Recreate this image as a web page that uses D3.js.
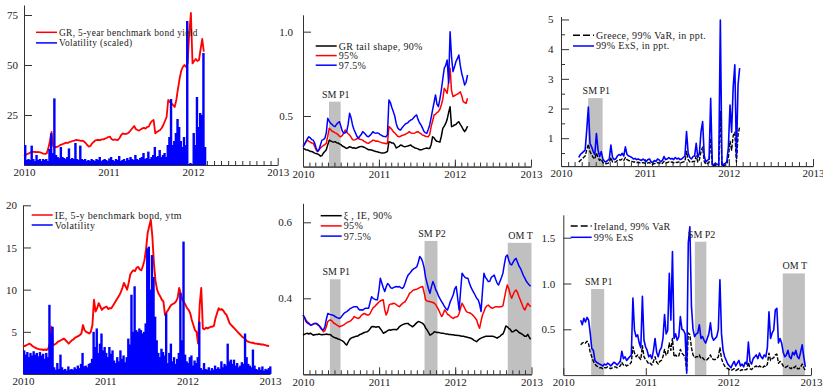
<!DOCTYPE html>
<html>
<head>
<meta charset="utf-8">
<script src="https://cdn.jsdelivr.net/npm/d3@7"></script>
<style>
  body { margin: 0; background: #fff; }
  svg { display: block; font-family: "Liberation Serif", "DejaVu Serif", serif; }
</style>
</head>
<body>
<svg id="chart" width="823" height="387"></svg>
<script>
// weekly observations, week index counted from 1 Jan 2010
const years = [2010, 2011, 2012, 2013];

// Greece, 5-year benchmark yield and scaled volatility (weeks 0..111)
const grYield = [
  4.5, 5.0, 5.5, 5.8, 6.3, 6.7, 6.6, 6.5, 6.4, 6.5,
  6.3, 6.0, 5.7, 5.5, 5.8, 8.3, 12, 16.5, 9.5, 9.0,
  9.0, 9.2, 9.8, 10.2, 10.5, 10.8, 11.2, 11.0, 11.5, 11.7,
  12.0, 12.2, 12.5, 12.4, 12.3, 12.1, 12.2, 11.8, 11.0, 10.0,
  9.2, 9.5, 10.8, 11.5, 12.3, 12.5, 12.6, 12.4, 12.8, 12.8,
  13.2, 13.5, 14.0, 14.2, 13.0, 12.5, 12.8, 12.6, 12.5, 13.5,
  15.0, 15.8, 15.5, 15.6, 15.8, 16.5, 17.5, 18.5, 19.5, 18.0,
  17.5, 17.2, 17.8, 18.3, 18.6, 18.2, 19.0, 19.2, 21.0, 22.0,
  22.5, 15.8, 16.5, 17.0, 17.5, 18.5, 20.0, 22.0, 24.0, 32.5,
  31.5, 30.8, 30.0, 29.0, 32.5, 38.0, 43.0, 47.0, 49.0, 50.0,
  49.0, 51.0, 66.0, 76.0, 50.8, 52.0, 53.0, 52.0, 52.5, 58.0, 63.0, 56.7
];
const grVol = [
  10, 2.5, 3, 2.5, 9.7, 3, 2, 5, 2.5, 3,
  2, 3, 2.5, 3, 2, 8, 15.8, 6, 33.3, 5,
  4, 3.5, 9, 4, 3.5, 3, 4, 8.3, 3, 3.5,
  3, 11, 3, 2.5, 9.7, 3, 2.5, 3, 2, 2.5,
  2, 3, 2.5, 2, 3, 2.5, 4, 2, 2.5, 3,
  2.5, 2, 3, 4, 2.5, 2, 3, 2.5, 4.5, 2,
  2.5, 3, 2, 3.5, 2.5, 4, 3, 2.5, 5, 3,
  2.5, 3.5, 4, 6, 3, 3.5, 6.7, 3, 4, 5,
  9, 4, 4.5, 7.5, 4, 5, 6, 4, 10, 14,
  33, 10, 12, 16, 23, 19, 12, 9, 14, 10,
  72, 0.5, 1, 0.5, 16, 10, 34, 19, 26, 25, 56, 9
];

// Greece tail shape (weeks 0..113)
const grXi90 = [
  .308, .305, .30, .298, .295, .29, .29, .285, .28, .278,
  .275, .27, .262, .265, .28, .29, .30, .33, .357, .352,
  .348, .345, .348, .342, .34, .335, .33, .322, .318, .312,
  .308, .312, .318, .315, .31, .312, .308, .31, .315, .318,
  .32, .318, .315, .31, .305, .30, .30, .298, .295, .292,
  .29, .288, .285, .283, .28, .28, .282, .285, .29, .348,
  .345, .34, .34, .33, .31, .315, .32, .328, .325, .32,
  .318, .32, .322, .325, .328, .32, .315, .31, .308, .305,
  .30, .30, .302, .305, .308, .31, .308, .308, .33, .377,
  .37, .357, .35, .348, .345, .38, .427, .44, .456, .48,
  .52, .555, .437, .44, .447, .45, .46, .466, .45, .437, .42, .407, .42, .44
];
const grXi95 = [
  .328, .335, .345, .357, .35, .345, .34, .338, .32, .30,
  .29, .30, .31, .318, .325, .33, .338, .38, .427, .42,
  .41, .407, .40, .397, .39, .38, .377, .385, .40, .417,
  .405, .395, .387, .375, .36, .357, .36, .365, .368, .362,
  .36, .357, .35, .345, .34, .338, .345, .35, .357, .355,
  .35, .352, .348, .345, .342, .34, .338, .335, .338, .437,
  .43, .42, .407, .40, .39, .38, .377, .38, .385, .387,
  .39, .395, .40, .407, .40, .398, .397, .40, .405, .407,
  .40, .395, .387, .385, .38, .378, .377, .39, .437, .47,
  .506, .51, .52, .526, .54, .565, .60, .664, .65, .634,
  .70, .783, .65, .615, .62, .625, .63, .635, .644, .62, .585, .58, .575, .605
];
const grXi975 = [
  .318, .33, .35, .365, .377, .37, .36, .357, .34, .31,
  .29, .30, .33, .357, .36, .368, .40, .486, .47, .456,
  .45, .44, .437, .45, .46, .466, .44, .41, .397, .40,
  .407, .45, .516, .49, .447, .42, .40, .38, .368, .38,
  .39, .407, .40, .39, .38, .377, .385, .395, .407, .40,
  .398, .40, .397, .39, .385, .38, .378, .377, .39, .595,
  .58, .55, .526, .50, .456, .43, .42, .417, .43, .44,
  .45, .456, .46, .47, .476, .48, .49, .50, .506, .48,
  .46, .447, .43, .41, .40, .397, .42, .447, .49, .536,
  .58, .625, .57, .555, .60, .654, .72, .783, .80, .832,
  .694, 1.0, .85, .763, .79, .822, .84, .862, .80, .753, .72, .684, .70, .743
];

// Greece 99% VaR and ExS, in ppt. (weeks 11..111)
const grVaR = [
  0.2, 0.25, 0.3, 0.35, 0.4, 0.6, 0.8, 0.55, 0.45, 0.35,
  0.3, 0.5, 0.35, 0.25, 0.3, 0.18, 0.15, 0.14, 0.15, 0.18,
  0.35, 0.2, 0.18, 0.2, 0.25, 0.28, 0.26, 0.3, 0.25, 0.35,
  0.28, 0.25, 0.24, 0.22, 0.2, 0.2, 0.18, 0.19, 0.17, 0.16,
  0.18, 0.16, 0.14, 0.17, 0.18, 0.13, 0.12, 0.15, 0.14, 0.18,
  0.17, 0.13, 0.15, 0.22, 0.17, 0.18, 0.2, 0.18, 0.2, 0.17,
  0.2, 0.18, 0.2, 0.17, 0.18, 0.2, 0.22, 0.55, 0.28, 0.2,
  0.18, 0.22, 0.22, 0.4, 0.2, 0.28, 0.55, 0.7, 0.22, 0.12,
  0.15, 0.18, 1.0, 0.07, 0.08, 0.09, 0.08, 0.07, 1.9, 0.07,
  0.08, 0.09, 0.12, 0.35, 0.9, 0.6, 1.1, 1.2, 0.2, 1.1, 1.4
];
const grExS = [
  0.35, 0.45, 0.5, 0.55, 0.6, 1.28, 2.05, 0.83, 0.71, 0.55,
  0.45, 1.16, 0.6, 0.38, 0.55, 0.3, 0.22, 0.2, 0.25, 0.3,
  0.77, 0.35, 0.28, 0.3, 0.4, 0.45, 0.42, 0.49, 0.4, 0.71,
  0.45, 0.4, 0.38, 0.35, 0.3, 0.32, 0.28, 0.3, 0.27, 0.25,
  0.3, 0.25, 0.22, 0.28, 0.3, 0.2, 0.18, 0.25, 0.22, 0.3,
  0.27, 0.2, 0.25, 0.38, 0.28, 0.3, 0.35, 0.3, 0.32, 0.28,
  0.35, 0.3, 0.33, 0.28, 0.3, 0.35, 0.4, 1.22, 0.5, 0.35,
  0.3, 0.38, 0.4, 0.83, 0.35, 0.5, 1.22, 1.56, 0.4, 0.2,
  0.25, 0.3, 2.34, 0.1, 0.12, 0.15, 0.12, 0.1, 4.98, 0.1,
  0.12, 0.15, 0.2, 0.7, 2.12, 1.2, 2.74, 3.47, 0.38, 2.8, 3.36
];

// Ireland, 5-y benchmark yield and volatility (weeks 0..156)
const ieYield = [
  3.4, 3.3, 3.4, 3.5, 3.6, 3.5, 3.3, 3.2, 3.1, 3.0,
  2.95, 2.9, 2.9, 2.85, 2.9, 2.85, 3.0, 3.6, 5.6, 3.4,
  3.5, 3.6, 3.8, 3.9, 4.0, 4.1, 4.2, 4.0, 3.8, 3.6,
  3.8, 4.0, 4.1, 4.3, 4.4, 4.5, 4.6, 4.8, 5.8, 5.2,
  5.0, 4.9, 4.8, 5.0, 5.8, 8.8, 7.4, 7.8, 8.4, 8.0,
  7.6, 7.8, 7.9, 8.0, 7.7, 7.8, 7.8, 8.1, 8.4, 8.7,
  9.0, 9.3, 9.7, 10.2, 10.8, 10.4, 10.0, 10.8, 11.8, 12.1,
  12.3, 12.2, 12.6, 12.7, 12.4, 12.3, 12.8, 13.5, 14.8, 16.7,
  17.5, 18.3, 16.3, 13.1, 11.0, 10.0, 9.5, 9.2, 8.8, 8.6,
  7.0, 7.3, 7.6, 7.9, 8.2, 8.3, 8.4, 8.6, 9.0, 10.2,
  9.5, 8.8, 8.5, 8.2, 7.8, 7.6, 7.2, 6.4, 5.8, 5.2,
  5.0, 3.6, 8.2, 10.2, 5.4, 5.3, 5.5, 5.4, 5.5, 5.6,
  5.6, 5.7, 6.6, 7.2, 7.8, 7.6, 7.7, 7.5, 7.2, 7.0,
  6.5, 6.0, 5.8, 5.6, 5.4, 5.2, 5.0, 4.8, 4.6, 4.4,
  4.3, 4.1, 3.9, 3.8, 3.75, 3.7, 3.7, 3.6, 3.6, 3.55,
  3.55, 3.5, 3.5, 3.45, 3.4, 3.35, 3.3
];
const ieVol = [
  2.8, 2.3, 2.6, 2.0, 2.5, 2.2, 2.7, 2.3, 2.5, 2.1,
  2.6, 2.2, 2.4, 1.8, 2.5, 2.0, 8.2, 4.8, 5.6, 0.8,
  0.5, 1.3, 0.6, 2.3, 0.8, 0.5, 0.6, 0.4, 0.9, 0.5,
  0.6, 0.5, 0.8, 0.6, 1.0, 0.7, 1.2, 2.5, 0.9, 1.0,
  0.8, 1.2, 1.3, 1.8, 5.0, 3.2, 5.4, 2.5, 3.6, 4.8,
  2.8, 3.2, 2.5, 2.0, 3.2, 2.4, 2.8, 1.6, 1.3, 2.0,
  1.5, 2.8, 1.8, 2.2, 1.4, 2.0, 4.2, 3.5, 9.4, 5.0,
  10.4, 5.2, 5.0, 5.4, 5.2, 4.8, 5.0, 6.0, 14.9, 15.1,
  10.0, 14.1, 11.5, 6.8, 4.0, 2.5, 2.0, 3.0, 2.6, 2.2,
  7.2, 1.3, 2.5, 3.6, 1.5, 2.0, 1.2, 1.8, 2.5, 9.6,
  4.0, 15.7, 2.3, 1.5, 1.3, 2.0, 2.2, 1.0, 1.6, 1.3,
  2.0, 6.2, 0.7, 0.5, 1.3, 0.6, 0.5, 0.8, 0.4, 0.7,
  0.5, 1.0, 0.6, 0.8, 0.6, 1.5, 0.8, 1.2, 1.0, 3.6,
  1.5, 1.7, 1.2, 1.7, 1.0, 1.3, 0.8, 1.0, 1.4, 1.2,
  4.8, 2.0, 1.2, 1.0, 0.8, 2.9, 1.0, 0.6, 0.5, 0.8,
  0.5, 0.9, 0.4, 0.6, 0.5, 0.7, 0.9
];

// Ireland tail shape (weeks 0..156)
const ieXi90 = [
  .303, .305, .307, .308, .306, .308, .306, .303, .304, .305,
  .305, .306, .305, .304, .305, .305, .306, .305, .305, .304,
  .30, .298, .296, .295, .293, .292, .29, .288, .285, .28,
  .277, .285, .292, .295, .297, .298, .30, .30, .302, .305,
  .306, .308, .31, .311, .312, .315, .32, .325, .326, .325,
  .324, .325, .325, .32, .315, .308, .31, .312, .315, .317,
  .316, .317, .318, .318, .317, .32, .325, .328, .33, .332,
  .333, .334, .334, .33, .328, .325, .328, .332, .336, .339,
  .338, .336, .334, .33, .322, .317, .31, .303, .305, .308,
  .312, .311, .31, .31, .309, .308, .308, .307, .306, .306,
  .305, .305, .304, .304, .303, .303, .302, .302, .301, .30,
  .30, .299, .298, .297, .296, .295, .293, .29, .288, .286,
  .29, .293, .295, .297, .298, .30, .30, .30, .30, .30,
  .30, .299, .297, .295, .298, .30, .304, .306, .315, .327,
  .325, .321, .318, .312, .312, .315, .317, .314, .31, .308,
  .306, .303, .30, .30, .305, .298, .292
];
const ieXi95 = [
  .356, .35, .343, .338, .335, .33, .33, .332, .334, .334,
  .33, .328, .325, .318, .312, .315, .325, .339, .342, .343,
  .34, .335, .333, .33, .328, .325, .327, .328, .33, .333,
  .336, .338, .339, .342, .346, .352, .35, .348, .347, .35,
  .355, .358, .36, .358, .356, .356, .36, .368, .375, .378,
  .382, .386, .39, .393, .395, .396, .37, .356, .365, .382,
  .385, .385, .387, .386, .383, .38, .378, .382, .386, .389,
  .391, .398, .405, .413, .416, .42, .422, .423, .424, .426,
  .428, .43, .431, .415, .396, .393, .392, .391, .39, .389,
  .387, .383, .376, .369, .36, .352, .358, .369, .365, .358,
  .356, .352, .349, .347, .35, .351, .352, .36, .375, .387,
  .38, .372, .365, .363, .362, .36, .357, .353, .348, .343,
  .33, .321, .34, .356, .365, .375, .38, .382, .378, .375,
  .374, .376, .378, .378, .377, .378, .378, .38, .40, .42,
  .435, .425, .41, .40, .41, .418, .422, .415, .404, .395,
  .385, .375, .369, .378, .387, .382, .378
];
const ieXi975 = [
  .356, .35, .339, .335, .333, .33, .33, .332, .334, .334,
  .332, .328, .322, .318, .317, .325, .345, .36, .358, .357,
  .356, .355, .352, .35, .348, .347, .35, .355, .36, .363,
  .365, .368, .372, .374, .376, .378, .378, .378, .372, .369,
  .37, .369, .372, .374, .374, .374, .39, .404, .40, .398,
  .396, .396, .42, .453, .44, .428, .418, .43, .439, .435,
  .428, .426, .428, .43, .431, .43, .431, .428, .426, .43,
  .44, .452, .461, .465, .47, .475, .478, .48, .483, .495,
  .51, .505, .496, .48, .455, .44, .425, .413, .43, .444,
  .435, .422, .415, .405, .398, .391, .385, .378, .372, .369,
  .38, .392, .40, .41, .425, .431, .40, .369, .42, .466,
  .46, .455, .453, .453, .44, .43, .422, .415, .408, .40,
  .396, .385, .365, .42, .466, .455, .45, .444, .445, .455,
  .458, .461, .45, .44, .435, .445, .455, .466, .49, .51,
  .514, .50, .49, .488, .495, .502, .505, .495, .485, .479,
  .47, .46, .453, .445, .44, .435, .432
];

// Ireland 99% VaR and ExS (weeks 11..153)
const ieVaR = [
  0.33, 0.35, 0.36, 0.35, 0.37, 0.34, 0.25, 0.2, 0.15, 0.12,
  0.1, 0.09, 0.08, 0.08, 0.07, 0.08, 0.08, 0.09, 0.08, 0.07,
  0.08, 0.09, 0.09, 0.08, 0.09, 0.1, 0.14, 0.11, 0.12, 0.1,
  0.11, 0.12, 0.14, 0.31, 0.24, 0.2, 0.22, 0.19, 0.17, 0.32,
  0.2, 0.17, 0.15, 0.12, 0.13, 0.11, 0.15, 0.2, 0.14, 0.12,
  0.15, 0.16, 0.2, 0.28, 0.22, 0.24, 0.35, 0.27, 0.4, 0.2,
  0.22, 0.2, 0.21, 0.28, 0.24, 0.22, 0.2, 0.05, 0.46, 0.44,
  0.3, 0.22, 0.19, 0.2, 0.2, 0.22, 0.18, 0.19, 0.17, 0.16,
  0.17, 0.19, 0.22, 0.18, 0.17, 0.17, 0.18, 0.2, 0.3, 0.18,
  0.13, 0.1, 0.08, 0.07, 0.06, 0.05, 0.06, 0.07, 0.05, 0.06,
  0.07, 0.05, 0.06, 0.05, 0.06, 0.06, 0.14, 0.07, 0.06, 0.08,
  0.09, 0.1, 0.08, 0.1, 0.09, 0.08, 0.1, 0.09, 0.12, 0.24,
  0.16, 0.18, 0.19, 0.22, 0.23, 0.13, 0.15, 0.13, 0.1, 0.08,
  0.09, 0.1, 0.08, 0.07, 0.09, 0.08, 0.1, 0.07, 0.07, 0.09,
  0.12, 0.08, 0.05
];
const ieExS = [
  0.6, 0.55, 0.62, 0.58, 0.63, 0.6, 0.46, 0.29, 0.27, 0.16,
  0.14, 0.13, 0.12, 0.11, 0.1, 0.12, 0.11, 0.13, 0.12, 0.1,
  0.12, 0.14, 0.13, 0.11, 0.13, 0.15, 0.26, 0.18, 0.2, 0.16,
  0.18, 0.2, 0.22, 0.84, 0.49, 0.42, 0.44, 0.35, 0.3, 0.86,
  0.38, 0.31, 0.27, 0.2, 0.22, 0.18, 0.27, 0.4, 0.25, 0.2,
  0.27, 0.3, 0.4, 0.66, 0.45, 0.49, 1.11, 0.6, 1.35, 0.4,
  0.45, 0.38, 0.42, 0.64, 0.5, 0.49, 0.45, 0.02, 1.44, 1.62,
  0.75, 0.5, 0.42, 0.45, 0.46, 0.55, 0.4, 0.42, 0.38, 0.35,
  0.4, 0.45, 0.57, 0.42, 0.38, 0.4, 0.42, 0.5, 1.04, 0.45,
  0.27, 0.2, 0.16, 0.12, 0.1, 0.08, 0.12, 0.15, 0.1, 0.13,
  0.16, 0.1, 0.12, 0.09, 0.14, 0.12, 0.36, 0.15, 0.12, 0.18,
  0.2, 0.22, 0.18, 0.24, 0.2, 0.18, 0.22, 0.2, 0.3, 0.69,
  0.4, 0.46, 0.49, 0.71, 0.73, 0.35, 0.4, 0.35, 0.25, 0.2,
  0.22, 0.27, 0.2, 0.18, 0.25, 0.22, 0.27, 0.2, 0.18, 0.25,
  0.33, 0.2, 0.09
];

// shaded policy windows: name, from, to, height (in panel units)
const grTailBands = [["SM P1", "2010-05-06", "2010-07-01", 0.585]];
const grRiskBands = [["SM P1", "2010-04-29", "2010-07-01", 2.35]];
const ieTailBands = [
  ["SM P1", "2010-05-10", "2010-06-30", 0.45],
  ["SM P2", "2011-08-07", "2011-10-08", 0.551],
  ["OM T", "2012-09-09", "2013-01-01", 0.546]
];
const ieRiskBands = [
  ["SM P1", "2010-05-04", "2010-07-01", 0.94],
  ["SM P2", "2011-08-06", "2011-09-26", 1.456],
  ["OM T", "2012-08-29", "2012-12-05", 1.11]
];

const RED = "#ff0000", BLUE = "#0000ff", BLACK = "#000000", GREY = "#c0c0c0", AXIS = "#333";
const t0 = new Date(2010, 0, 1), t1 = new Date(2013, 0, 1);
const parseDay = d3.timeParse("%Y-%m-%d");
const yearDates = years.map((y) => new Date(y, 0, 1));
const monthDates = d3.timeMonth.range(t0, t1);

const svg = d3.select("#chart");

function weekly(values, startWeek) {
  return values.map((v, i) => ({ date: d3.timeDay.offset(t0, (startWeek + i) * 7), v: v }));
}

const panels = [
  {
    xr: [24, 277.7], yd: [0, 80], yr: [165, 5], yTicks: [25, 50, 75], fmt: "d", gap: 6, months: true,
    legend: { x: 36, y: 32.3, dy: 10.6, size: 9.4 },
    series: [
      { kind: "line", data: grYield, start: 0, color: RED, width: 1.8, label: "GR, 5-year benchmark bond yield" },
      { kind: "bar", data: grVol, start: 0, color: BLUE, label: "Volatility (scaled)" },
    ],
  },
  {
    xr: [303, 531], yd: [0.2, 1.1], yr: [166.6, 14.8], yTicks: [0.5, 1.0], fmt: ".1f", gap: 10, months: true,
    bands: grTailBands,
    legend: { x: 315.7, y: 46, dy: 9.6, size: 10 },
    series: [
      { kind: "line", data: grXi90, start: 0, color: BLACK, width: 1.5, label: "GR  tail shape, 90%" },
      { kind: "line", data: grXi95, start: 0, color: RED, width: 1.5, label: "95%" },
      { kind: "line", data: grXi975, start: 0, color: BLUE, width: 1.5, label: "97.5%" },
    ],
  },
  {
    xr: [561, 813], yd: [0.06, 5.1], yr: [166.1, 16.5], yTicks: [1, 2, 3, 4, 5], fmt: "d", gap: 7.5, months: true,
    minorY: [0.5, 1.5, 2.5, 3.5, 4.5],
    bands: grRiskBands,
    legend: { x: 573, y: 35.3, dy: 10.7, size: 10 },
    series: [
      { kind: "line", data: grVaR, start: 11, color: BLACK, width: 1.4, dash: "4,1.5", label: "Greece, 99% VaR, in ppt." },
      { kind: "line", data: grExS, start: 11, color: BLUE, width: 1.6, label: "99% ExS, in ppt." },
    ],
  },
  {
    xr: [23, 270], yd: [0, 20], yr: [374, 205.3], yTicks: [5, 10, 15, 20], fmt: "d", gap: 6, months: false,
    legend: { x: 31.7, y: 215, dy: 10, size: 10 },
    series: [
      { kind: "line", data: ieYield, start: 0, color: RED, width: 1.9, label: "IE, 5-y benchmark bond, ytm" },
      { kind: "bar", data: ieVol, start: 0, color: BLUE, label: "Volatility" },
    ],
  },
  {
    xr: [303, 531.5], yd: [0.2, 0.65], yr: [374.3, 203.3], yTicks: [0.4, 0.6], fmt: ".1f", gap: 11, months: true,
    bands: ieTailBands,
    legend: { x: 320.7, y: 215.7, dy: 10.2, size: 10 },
    series: [
      { kind: "line", data: ieXi90, start: 0, color: BLACK, width: 1.5, label: "ξ  , IE, 90%" },
      { kind: "line", data: ieXi95, start: 0, color: RED, width: 1.5, label: "95%" },
      { kind: "line", data: ieXi975, start: 0, color: BLUE, width: 1.5, label: "97.5%" },
    ],
  },
  {
    xr: [563.3, 811], yd: [0, 1.75], yr: [375.1, 214.8], yTicks: [0.5, 1.0, 1.5], fmt: ".1f", gap: 8, months: false,
    bands: ieRiskBands,
    legend: { x: 570.7, y: 226, dy: 11.3, size: 10 },
    series: [
      { kind: "line", data: ieVaR, start: 11, color: BLACK, width: 1.4, dash: "4,1.5", label: "Ireland, 99% VaR" },
      { kind: "line", data: ieExS, start: 11, color: BLUE, width: 1.6, label: "99% ExS" },
    ],
  },
];

function drawPanel(p) {
  const x = d3.scaleTime().domain([t0, t1]).range(p.xr);
  const y = d3.scaleLinear().domain(p.yd).range(p.yr);
  const g = svg.append("g");
  const base = p.yr[0];

  // shaded windows
  const bands = p.bands || [];
  g.append("g")
    .selectAll("rect")
    .data(bands)
    .enter()
    .append("rect")
    .attr("x", (d) => x(parseDay(d[1])))
    .attr("width", (d) => x(parseDay(d[2])) - x(parseDay(d[1])))
    .attr("y", (d) => y(d[3]))
    .attr("height", (d) => base - y(d[3]))
    .attr("fill", GREY);

  // x axis: monthly minor ticks, yearly major ticks
  if (p.months) {
    g.append("g")
      .attr("transform", `translate(0,${base})`)
      .call(d3.axisBottom(x).tickValues(monthDates).tickSize(-4).tickSizeOuter(0).tickFormat(""));
  }
  g.append("g")
    .attr("transform", `translate(0,${base})`)
    .call(
      d3.axisBottom(x).tickValues(yearDates).tickSize(-7).tickSizeOuter(0).tickPadding(3.5)
        .tickFormat(d3.timeFormat("%Y")),
    );

  // y axis
  if (p.minorY) {
    g.append("g")
      .attr("transform", `translate(${p.xr[0]},0)`)
      .call(d3.axisLeft(y).tickValues(p.minorY).tickSize(-4).tickSizeOuter(0).tickFormat(""));
  }
  g.append("g")
    .attr("transform", `translate(${p.xr[0]},0)`)
    .call(d3.axisLeft(y).tickValues(p.yTicks).tickSize(-8).tickSizeOuter(0).tickPadding(p.gap)
      .tickFormat(d3.format(p.fmt)));

  g.selectAll(".domain, .tick line").attr("stroke", AXIS);
  g.selectAll(".tick text").attr("fill", "#222").style("font-size", "11px")
    .style("font-family", '"Liberation Serif", serif');

  // series
  p.series.forEach((s) => {
    const pts = weekly(s.data, s.start);
    if (s.kind === "bar") {
      const bw = x(d3.timeDay.offset(t0, 7)) - x(t0) + 0.8;
      g.append("g")
        .selectAll("rect")
        .data(pts)
        .enter()
        .append("rect")
        .attr("x", (d) => x(d.date))
        .attr("y", (d) => y(d.v))
        .attr("width", bw)
        .attr("height", (d) => base - y(d.v))
        .attr("fill", s.color);
    } else {
      g.append("path")
        .datum(pts)
        .attr("fill", "none")
        .attr("stroke", s.color)
        .attr("stroke-width", s.width)
        .attr("stroke-dasharray", s.dash || null)
        .attr("stroke-linejoin", "round")
        .attr("d", d3.line().x((d) => x(d.date)).y((d) => y(d.v)));
    }
  });

  // band labels
  g.append("g")
    .selectAll("text")
    .data(bands)
    .enter()
    .append("text")
    .attr("x", (d) => (x(parseDay(d[1])) + x(parseDay(d[2]))) / 2 + 1)
    .attr("y", (d) => y(d[3]) - 4)
    .attr("text-anchor", "middle")
    .style("font-size", "10px")
    .attr("fill", "#222")
    .text((d) => d[0]);

  // legend
  const lg = g.append("g").attr("transform", `translate(${p.legend.x},${p.legend.y})`);
  p.series.forEach((s, i) => {
    lg.append("line")
      .attr("x1", 0).attr("x2", 21)
      .attr("y1", i * p.legend.dy).attr("y2", i * p.legend.dy)
      .attr("stroke", s.color)
      .attr("stroke-width", 1.5)
      .attr("stroke-dasharray", s.dash ? "7,3" : null);
    lg.append("text")
      .attr("x", 23)
      .attr("y", i * p.legend.dy)
      .attr("dy", "0.35em")
      .style("font-size", p.legend.size + "px")
      .style("letter-spacing", "0.35px")
      .attr("fill", "#222")
      .text(s.label);
  });
}

panels.forEach(drawPanel);
</script>
</body>
</html>
